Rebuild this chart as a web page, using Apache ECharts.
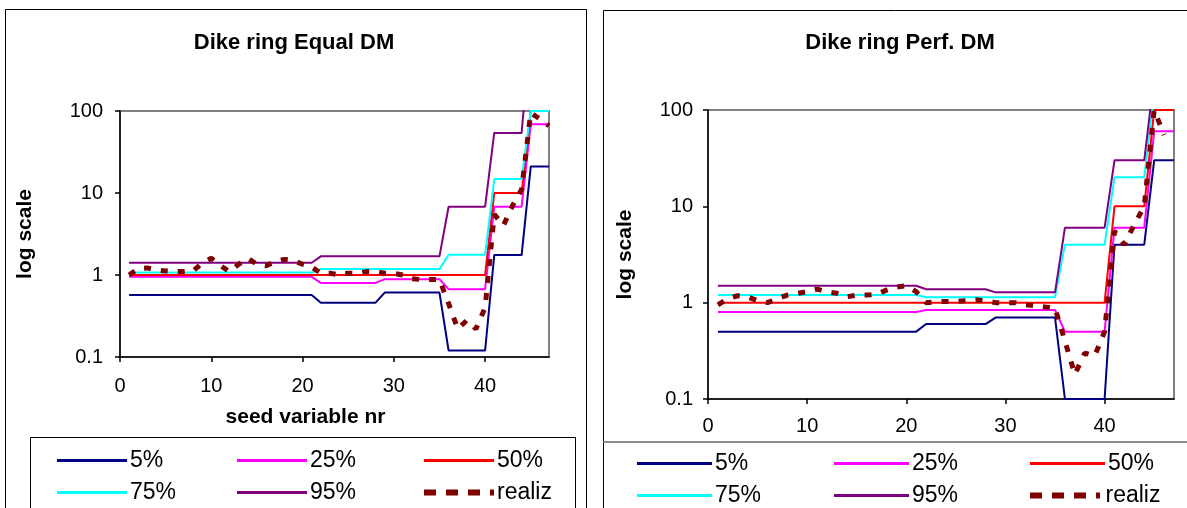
<!DOCTYPE html>
<html>
<head>
<meta charset="utf-8">
<script src="https://cdn.jsdelivr.net/npm/echarts@6/dist/echarts.min.js"></script>
<style>
html,body{margin:0;padding:0;background:#fff;}
#c{width:1187px;height:508px;}
</style>
</head>
<body>
<div id="c"></div>
<script>
// ---------- DATA ----------
const seedNr = [1,2,3,4,5,6,7,8,9,10,11,12,13,14,15,16,17,18,19,20,21,22,23,24,25,26,27,28,29,30,31,32,33,34,35,36,37,38,39,40,41,42,43,44,45,46,47];
const seriesNames = ['5%','25%','50%','75%','95%','realiz'];
const xTicks = [0,10,20,30,40];
const yTicks = [0.1,1,10,100];

// Left chart: Dike ring Equal DM
const eq_p5  = [0.57,0.57,0.57,0.57,0.57,0.57,0.57,0.57,0.57,0.57,0.57,0.57,0.57,0.57,0.57,0.57,0.57,0.57,0.57,0.57,0.57,0.46,0.46,0.46,0.46,0.46,0.46,0.46,0.61,0.61,0.61,0.61,0.61,0.61,0.61,0.12,0.12,0.12,0.12,0.12,1.75,1.75,1.75,1.75,21,21,21];
const eq_p25 = [0.95,0.95,0.95,0.95,0.95,0.95,0.95,0.95,0.95,0.95,0.95,0.95,0.95,0.95,0.95,0.95,0.95,0.95,0.95,0.95,0.95,0.80,0.80,0.80,0.80,0.80,0.80,0.80,0.89,0.89,0.89,0.89,0.89,0.89,0.89,0.67,0.67,0.67,0.67,0.67,6.8,6.8,6.8,6.8,69,69,69];
const eq_p50 = [1,1,1,1,1,1,1,1,1,1,1,1,1,1,1,1,1,1,1,1,1,1,1,1,1,1,1,1,1,1,1,1,1,1,1,1,1,1,1,1,10,10,10,10,100,100,100];
const eq_p75 = [1.07,1.07,1.07,1.07,1.07,1.07,1.07,1.07,1.07,1.07,1.07,1.07,1.07,1.07,1.07,1.07,1.07,1.07,1.07,1.07,1.07,1.18,1.18,1.18,1.18,1.18,1.18,1.18,1.18,1.18,1.18,1.18,1.18,1.18,1.18,1.77,1.77,1.77,1.77,1.77,14.8,14.8,14.8,14.8,100,100,100];
const eq_p95 = [1.41,1.41,1.41,1.41,1.41,1.41,1.41,1.41,1.41,1.41,1.41,1.41,1.41,1.41,1.41,1.41,1.41,1.41,1.41,1.41,1.41,1.69,1.69,1.69,1.69,1.69,1.69,1.69,1.69,1.69,1.69,1.69,1.69,1.69,1.69,6.8,6.8,6.8,6.8,6.8,54,54,54,54,1000,1000,1000];
const eq_realiz = [1.0,1.2,1.22,1.15,1.12,1.1,1.1,1.12,1.4,1.6,1.3,1.1,1.35,1.6,1.35,1.3,1.45,1.55,1.5,1.35,1.25,1.05,1.05,1.0,1.05,1.05,1.1,1.1,1.05,1.05,1.0,0.9,0.88,0.88,0.88,0.45,0.22,0.28,0.22,0.4,5.5,4.0,7.0,11,95,80,66];

// Right chart: Dike ring Perf. DM
const pf_p5  = [0.5,0.5,0.5,0.5,0.5,0.5,0.5,0.5,0.5,0.5,0.5,0.5,0.5,0.5,0.5,0.5,0.5,0.5,0.5,0.5,0.5,0.6,0.6,0.6,0.6,0.6,0.6,0.6,0.7,0.7,0.7,0.7,0.7,0.7,0.7,0.1,0.1,0.1,0.1,0.1,4,4,4,4,30,30,30];
const pf_p25 = [0.8,0.8,0.8,0.8,0.8,0.8,0.8,0.8,0.8,0.8,0.8,0.8,0.8,0.8,0.8,0.8,0.8,0.8,0.8,0.8,0.8,0.84,0.84,0.84,0.84,0.84,0.84,0.84,0.84,0.84,0.84,0.84,0.84,0.84,0.84,0.5,0.5,0.5,0.5,0.5,6,6,6,6,60,60,60];
const pf_p50 = [1,1,1,1,1,1,1,1,1,1,1,1,1,1,1,1,1,1,1,1,1,1,1,1,1,1,1,1,1,1,1,1,1,1,1,1,1,1,1,1,10,10,10,10,100,100,100];
const pf_p75 = [1.2,1.2,1.2,1.2,1.2,1.2,1.2,1.2,1.2,1.2,1.2,1.2,1.2,1.2,1.2,1.2,1.2,1.2,1.2,1.2,1.2,1.14,1.14,1.14,1.14,1.14,1.14,1.14,1.14,1.14,1.14,1.14,1.14,1.14,1.14,4,4,4,4,4,20,20,20,20,150,150,150];
const pf_p95 = [1.5,1.5,1.5,1.5,1.5,1.5,1.5,1.5,1.5,1.5,1.5,1.5,1.5,1.5,1.5,1.5,1.5,1.5,1.5,1.5,1.5,1.38,1.38,1.38,1.38,1.38,1.38,1.38,1.28,1.28,1.28,1.28,1.28,1.28,1.28,6,6,6,6,6,30,30,30,30,220,220,220];
const pf_realiz = [0.95,1.1,1.18,1.15,1.05,1.0,1.1,1.2,1.25,1.3,1.38,1.3,1.25,1.15,1.2,1.2,1.22,1.35,1.45,1.5,1.3,1.0,1.02,1.03,1.03,1.05,1.07,1.05,1.0,1.0,1.0,0.95,0.93,0.9,0.88,0.4,0.18,0.3,0.28,0.5,5.5,4.0,6.5,10,100,55];

// ---------- STYLE ----------
const colors = ['#000080','#FF00FF','#FF0000','#00FFFF','#800080','#800000'];
const FONT = 'Liberation Sans';

const leftData = [eq_p5, eq_p25, eq_p50, eq_p75, eq_p95, eq_realiz];
const rightData = [pf_p5, pf_p25, pf_p50, pf_p75, pf_p95, pf_realiz];

function pairs(vals){ return vals.map((v,i)=>[seedNr[i], v]); }

function makeSeries(dataSets, axisIdx){
  return dataSets.map((vals, k) => ({
    name: seriesNames[k],
    type: 'line',
    xAxisIndex: axisIdx, yAxisIndex: axisIdx,
    data: pairs(vals),
    symbol: 'none',
    clip: true,
    z: k === 5 ? 5 : 3,
    lineStyle: k === 5
      ? {color: colors[k], width: 5, type: [7, 10], cap: 'butt'}
      : {color: colors[k], width: 2},
    itemStyle: {color: colors[k]}
  }));
}

function xAxis(idx, labelMargin, name){
  return {
    type: 'value', gridIndex: idx, min: 0, max: 47, interval: 10,
    axisLine: {show: true, onZero: false, lineStyle: {color: '#000', width: 1.5}},
    axisTick: {show: true, length: 5, lineStyle: {color: '#000', width: 1.5}},
    splitLine: {show: false},
    axisLabel: {
      margin: labelMargin, showMaxLabel: false,
      fontFamily: FONT, fontSize: 20, color: '#000',
      formatter: v => xTicks.indexOf(v) >= 0 ? String(v) : ''
    },
    name: name || '',
    nameLocation: 'middle', nameGap: 50,
    nameTextStyle: {fontFamily: FONT, fontSize: 21, fontWeight: 'bold', color: '#000', padding: [0, 58, 0, 0]}
  };
}

function yAxis(idx, labelMargin, nameGap){
  return {
    type: 'log', logBase: 10, gridIndex: idx, min: 0.1, max: 100,
    axisLine: {show: true, lineStyle: {color: '#000', width: 1.5}},
    axisTick: {show: true, length: 5, lineStyle: {color: '#000', width: 1.5}},
    splitLine: {show: false},
    minorTick: {show: false},
    axisLabel: {
      margin: labelMargin, fontFamily: FONT, fontSize: 20, color: '#000',
      formatter: v => {
        const t = yTicks.find(t => Math.abs(t - v) / t < 1e-6);
        return t === undefined ? '' : String(t);
      }
    },
    name: 'log scale', nameLocation: 'middle', nameRotate: 90, nameGap: nameGap,
    nameTextStyle: {fontFamily: FONT, fontSize: 21, fontWeight: 'bold', color: '#000'}
  };
}

// legends: one per item for exact placement
const dashIcon = 'path://M0,0h12v6h-12zM22,0h12v6h-12zM44,0h12v6h-12zM66,0h4v6h-4z';
function makeLegends(colX, rowY, itemW){
  const out = [];
  seriesNames.forEach((n, k) => {
    const col = k % 3, row = Math.floor(k / 3);
    const isDash = n === 'realiz';
    out.push({
      data: [{name: n, icon: isDash ? dashIcon : 'rect'}],
      left: colX[col], top: rowY[row] - 12,
      padding: 0,
      itemWidth: itemW, itemHeight: isDash ? 6 : 3,
      selectedMode: false,
      textStyle: {fontFamily: FONT, fontSize: 23, color: '#000', padding: [0,0,0,-2]}
    });
  });
  return out;
}

const chart = echarts.init(document.getElementById('c'), null, {renderer: 'canvas'});
chart.setOption({
  animation: false,
  backgroundColor: '#fff',
  title: [
    {text: 'Dike ring Equal DM', left: 289, top: 27, textAlign: 'center',
     textStyle: {fontFamily: FONT, fontSize: 22, fontWeight: 'bold', color: '#000'}},
    {text: 'Dike ring Perf. DM', left: 895, top: 27, textAlign: 'center',
     textStyle: {fontFamily: FONT, fontSize: 22, fontWeight: 'bold', color: '#000'}}
  ],
  grid: [
    {left: 120, top: 111, width: 429, height: 246, show: true, borderColor: '#808080', borderWidth: 2, backgroundColor: 'transparent'},
    {left: 708, top: 110, width: 466, height: 289, show: true, borderColor: '#808080', borderWidth: 2, backgroundColor: 'transparent'}
  ],
  xAxis: [xAxis(0, 19, 'seed variable nr'), xAxis(1, 17, '')],
  yAxis: [yAxis(0, 17, 84), yAxis(1, 15, 72)],
  legend: makeLegends([57, 237, 424], [461, 493], 70).concat(makeLegends([637, 834, 1030], [464, 496], 75)),
  graphic: [
    {type: 'rect', shape: {x: 5.5, y: 9.5, width: 581, height: 540}, style: {fill: 'none', stroke: '#000', lineWidth: 1}, silent: true, z: -10},
    {type: 'rect', shape: {x: 603.5, y: 10.5, width: 640, height: 540}, style: {fill: 'none', stroke: '#000', lineWidth: 1}, silent: true, z: -10},
    {type: 'rect', shape: {x: 30.5, y: 437.5, width: 545, height: 120}, style: {fill: 'none', stroke: '#000', lineWidth: 1}, silent: true, z: -10},
    {type: 'line', shape: {x1: 603, y1: 442, x2: 1187, y2: 442}, style: {stroke: '#666', lineWidth: 1.5}, silent: true, z: -10}
  ],
  series: makeSeries(leftData, 0).concat(makeSeries(rightData, 1))
});
</script>
</body>
</html>
